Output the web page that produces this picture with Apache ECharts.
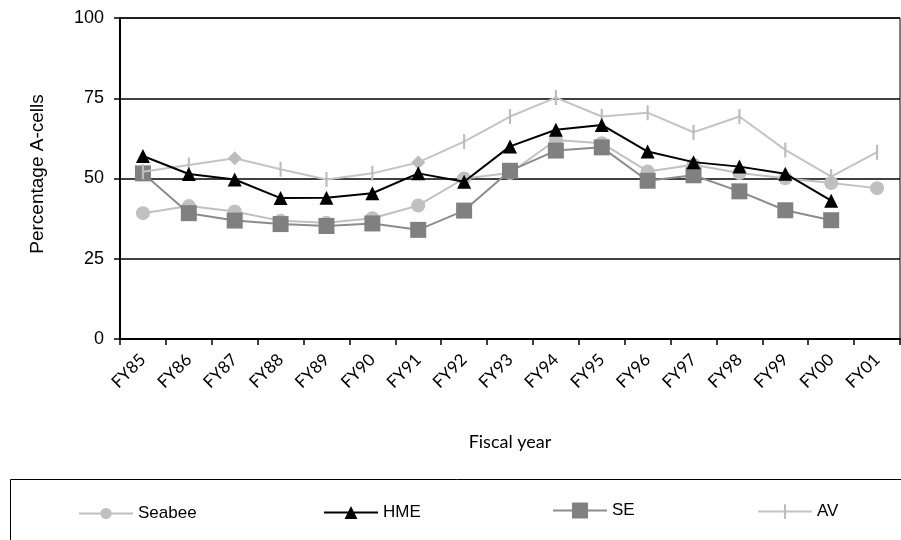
<!DOCTYPE html>
<html>
<head>
<meta charset="utf-8">
<script src="https://cdn.jsdelivr.net/npm/echarts@6/dist/echarts.min.js"></script>
<style>
  html, body { margin: 0; padding: 0; background: #fff; }
  #chart { width: 901px; height: 540px; }
</style>
</head>
<body>
<div id="chart"></div>
<script>
// Fiscal years on the category axis
const years = ['FY85','FY86','FY87','FY88','FY89','FY90','FY91','FY92','FY93',
               'FY94','FY95','FY96','FY97','FY98','FY99','FY00','FY01'];

// Percentage of A-cells per community
const seabee = [39.2, 41.4, 39.7, 36.8, 36.2, 37.6, 41.6, 50.0, 51.7, 62.0, 61.0, 52.2, 54.3, 51.7, 50.1, 48.6, 47.0];
const hme    = [57.0, 51.4, 49.7, 43.9, 44.0, 45.4, 51.6, 49.0, 60.0, 65.2, 66.7, 58.4, 55.1, 53.7, 51.5, 43.1, null];
const se     = [51.6, 39.2, 36.9, 35.8, 35.2, 36.0, 34.0, 40.0, 52.4, 58.7, 59.7, 49.3, 51.0, 46.0, 40.1, 37.0, null];
const av     = [52.1, 54.2, 56.3, 52.9, 49.7, 51.6, 55.0, 61.5, 69.3, 75.2, 69.3, 70.5, 64.4, 69.3, 58.9, 50.6, 58.2];

// AV points drawn with a diamond marker
const avDiamondYears = ['FY87', 'FY91'];

// Value axis ticks
const yTicks = [0, 25, 50, 75, 100];

const FONT = 'Liberation Sans';
const AXIS_FONT = 'Lato';

// Thin vertical bar centred in a square box (the tiny corner segments only
// fix the bounding box so the bar is not stretched).
const barSymbol = 'path://M0,0 L0.01,0 L0,0.01 Z M6,0 L8,0 L8,14 L6,14 Z M14,14 L13.99,14 L14,13.99 Z';

const avData = av.map((v, i) => avDiamondYears.includes(years[i])
  ? { value: v, symbol: 'diamond', symbolSize: 14 }
  : v);

const chart = echarts.init(document.getElementById('chart'), null, { renderer: 'canvas' });

function legendFor(name, left, itemHeight) {
  return {
    data: [name],
    left: left,
    top: 512 - Math.round(itemHeight / 2),
    padding: 0,
    itemWidth: 54,
    itemHeight: itemHeight,
    itemGap: 0,
    selectedMode: false,
    textStyle: { fontFamily: FONT, fontSize: 17, color: '#000' }
  };
}

chart.setOption({
  animation: false,
  backgroundColor: '#fff',
  grid: {
    left: 120, right: 1, top: 18, bottom: 201,
    show: true, borderColor: '#000', borderWidth: 1, backgroundColor: 'transparent'
  },
  legend: [
    legendFor('Seabee', 78, 14),
    legendFor('HME', 323, 16),
    legendFor('SE', 552, 20),
    legendFor('AV', 757, 18)
  ],
  xAxis: {
    type: 'category',
    data: years,
    boundaryGap: true,
    name: 'Fiscal year',
    nameLocation: 'middle',
    nameGap: 94,
    nameTextStyle: { fontFamily: AXIS_FONT, fontSize: 18, color: '#000' },
    axisLine: { lineStyle: { color: '#000', width: 2 } },
    axisTick: { show: true, length: 6, lineStyle: { color: '#000', width: 1.5 } },
    axisLabel: {
      rotate: 45, margin: 18, interval: 0,
      fontFamily: AXIS_FONT, fontSize: 17, color: '#000'
    },
    splitLine: { show: false }
  },
  yAxis: {
    type: 'value',
    min: yTicks[0], max: yTicks[yTicks.length - 1], interval: 25,
    axisLine: { show: true, lineStyle: { color: '#000', width: 2 } },
    axisTick: { show: true, length: 6, lineStyle: { color: '#000', width: 1.5 } },
    axisLabel: { margin: 16, fontFamily: FONT, fontSize: 18, color: '#000' },
    splitLine: { show: true, lineStyle: { color: '#000', width: 1.5 } }
  },
  series: [
    {
      name: 'Seabee', type: 'line', data: seabee,
      symbol: 'circle', symbolSize: 14,
      lineStyle: { color: '#c0c0c0', width: 2 },
      itemStyle: { color: '#c0c0c0' },
      z: 2
    },
    {
      name: 'SE', type: 'line', data: se,
      symbol: 'rect', symbolSize: 16,
      lineStyle: { color: '#8c8c8c', width: 2 },
      itemStyle: { color: '#808080' },
      z: 3
    },
    {
      name: 'AV', type: 'line', data: avData,
      symbol: barSymbol, symbolSize: 15,
      lineStyle: { color: '#c4c4c4', width: 2 },
      itemStyle: { color: '#bcbcbc' },
      z: 4
    },
    {
      name: 'HME', type: 'line', data: hme,
      symbol: 'triangle', symbolSize: 14,
      lineStyle: { color: '#000', width: 2 },
      itemStyle: { color: '#000' },
      z: 5
    }
  ],
  graphic: [
    {
      type: 'text',
      x: 38, y: 174,
      rotation: Math.PI / 2,
      style: {
        text: 'Percentage A-cells',
        fontFamily: FONT, fontSize: 19, fill: '#000',
        align: 'center', verticalAlign: 'middle'
      },
      silent: true
    },
    {
      type: 'rect',
      shape: { x: 10.5, y: 479.5, width: 1000, height: 200 },
      style: { fill: 'transparent', stroke: '#000', lineWidth: 1 },
      silent: true, z: -1
    }
  ]
});
</script>
</body>
</html>
